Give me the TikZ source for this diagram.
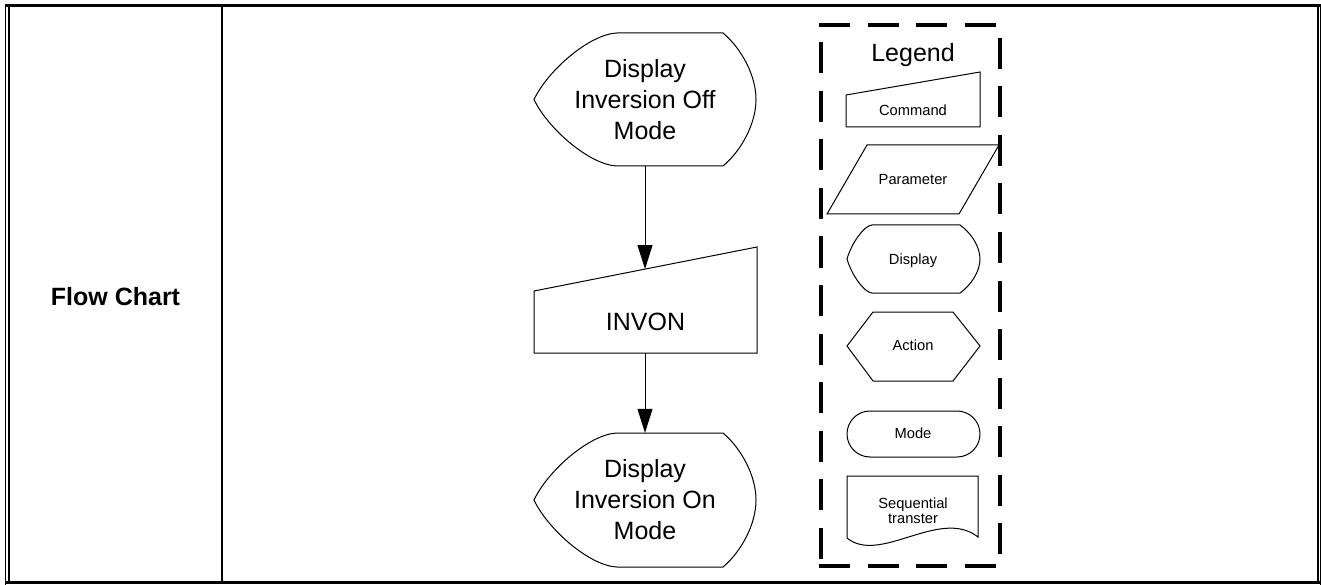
\documentclass[tikz,border=0pt]{standalone}
\usepackage{fontspec}
\setmainfont{Liberation Sans}
\usetikzlibrary{arrows.meta,calc}
\newcommand\dispshp[6]{% L A B R T U
  \pgfmathsetmacro\dsH{(#6-#5)/2}%
  \pgfmathsetmacro\dsM{(#6+#5)/2}%
  \pgfmathsetmacro\dsA{#2-0.325*(#2-#1)}%
  \pgfmathsetmacro\dsB{#1+0.169*(#2-#1)}%
  \pgfmathsetmacro\dsC{#3+0.545*(#4-#3)}%
  \draw[shp] (#2,#5) -- (#3,#5)
    .. controls (\dsC,#5+0.226*\dsH) and (#4,\dsM-0.368*\dsH) .. (#4,\dsM)
    .. controls (#4,\dsM+0.368*\dsH) and (\dsC,#6-0.226*\dsH) .. (#3,#6)
    -- (#2,#6)
    .. controls (\dsA,#6-0.015*\dsH) and (\dsB,\dsM+0.444*\dsH) .. (#1,\dsM)
    .. controls (\dsB,\dsM-0.444*\dsH) and (\dsA,#5+0.015*\dsH) .. (#2,#5) -- cycle;}
\begin{document}
\begin{tikzpicture}[x=1pt,y=-1pt,
  shp/.style={draw=black,line width=1pt,line join=miter},
  big/.style={font=\fontsize{25}{31}\selectfont, align=center, inner sep=0pt},
  small/.style={font=\fontsize{14.7}{15}\selectfont, align=center, inner sep=0pt},
  arr/.style={line width=1pt,-{Triangle[length=24pt,width=15pt]}},
  legendline/.style={line width=4.5pt,dash pattern=on 31pt off 17.5pt}
]
\useasboundingbox (0,0) rectangle (1321,585);
% table frame
\draw[line width=3pt] (5,5.5) -- (1321,5.5);
\draw[line width=3pt] (5,582.5) -- (1321,582.5);
\draw[line width=1pt] (5.5,4) -- (5.5,585);
\draw[line width=2pt] (9,7) -- (9,582);
\draw[line width=2pt] (222,7) -- (222,582);
\draw[line width=2pt] (1317.5,7) -- (1317.5,582);
\draw[line width=1pt] (1320.5,4) -- (1320.5,585);
\node[font=\fontsize{25}{30}\selectfont\bfseries, inner sep=0pt] (lbl) at (115.5,297) {Flow Chart};

% main flow
\dispshp{534}{617}{723}{756}{33}{166}
\node[big, minimum width=222pt, minimum height=133pt] (off) at (645,99.5) {Display\\Inversion Off\\Mode};
\draw[shp] (534,291) -- (757,247) -- (757,353) -- (534,353) -- cycle;
\node[big, minimum width=223pt, minimum height=62pt] (cmd) at (645.5,322) {INVON};
\coordinate (cmdin) at (645,269);
\dispshp{534}{617}{723}{756}{433}{567}
\node[big, minimum width=222pt, minimum height=134pt] (on) at (645,500) {Display\\Inversion On\\Mode};
\draw[arr] (off.south) -- (cmdin);
\draw[arr] (cmd.south -| off.south) -- (on.north);

% legend box
\draw[legendline] (819,25) -- (1002,25);
\draw[legendline] (819,566) -- (1002,566);
\draw[legendline, dash phase=31pt] (821,25) -- (821,566);
\draw[legendline, dash phase=35.5pt] (1000,25) -- (1000,566);
\node[font=\fontsize{25}{30}\selectfont, inner sep=0pt, anchor=base] (leg) at (913,62) {Legend};

% legend items
\draw[shp] (846,95) -- (980,72) -- (980,127) -- (846,127) -- cycle;
\node[small, anchor=base] (lcmd) at (913,115.5) {Command};
\draw[shp] (867,145) -- (999,145) -- (959,214) -- (827,214) -- cycle;
\node[small, anchor=base] (lpar) at (913,184.5) {Parameter};
\dispshp{847}{872}{960}{980}{225}{293}
\node[small, anchor=base] (ldisp) at (913,264) {Display};
\draw[shp] (847,346) -- (873,312) -- (953,312) -- (980,346) -- (953,381) -- (873,381) -- cycle;
\node[small, anchor=base] (lact) at (913,350.5) {Action};
\draw[shp, rounded corners=23pt] (847,411) rectangle (980,457);
\node[small, anchor=base] (lmode) at (913,438.6) {Mode};
\draw[shp] (847,538) -- (847,476) -- (978,476) -- (978,537)
  .. controls (940,507) and (880,565) .. (847,538) -- cycle;
\node[small] (lseq) at (913,510.5) {Sequential\\transter};
\end{tikzpicture}
\end{document}
